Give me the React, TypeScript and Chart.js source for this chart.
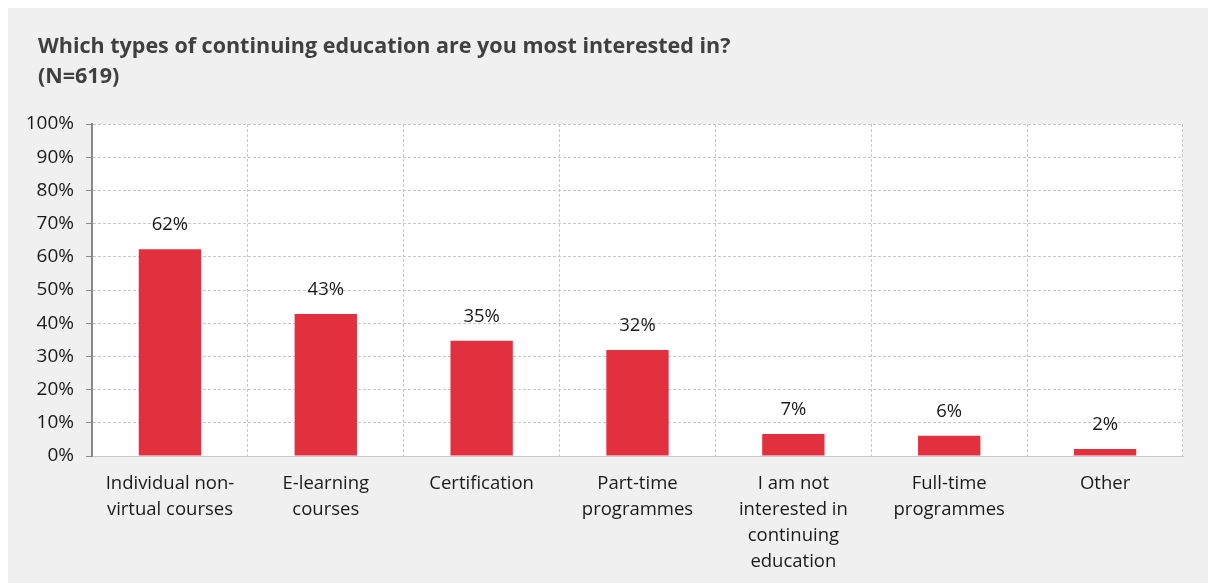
import React, { useEffect, useRef } from 'react';
import { Chart, registerables } from 'chart.js';

Chart.register(...registerables);

const titleLines = ['Which types of continuing education are you most interested in?', '(N=619)'];
const categories: string[][] = [
  ['Individual non-', 'virtual courses'],
  ['E-learning', 'courses'],
  ['Certification'],
  ['Part-time', 'programmes'],
  ['I am not', 'interested in', 'continuing', 'education'],
  ['Full-time', 'programmes'],
  ['Other'],
];
const values = [62.3, 42.8, 34.7, 31.9, 6.6, 6.1, 2.1];
const valueLabels = ['62%', '43%', '35%', '32%', '7%', '6%', '2%'];
const yTickValues = [0, 10, 20, 30, 40, 50, 60, 70, 80, 90, 100];

const FONT = '"Open Sans", sans-serif';

export default function App() {
  const ref = useRef<HTMLCanvasElement | null>(null);
  useEffect(() => {
    if (!ref.current) return;
    const bgPlugin = {
      id: 'bg',
      beforeDraw(chart: any) {
        const { ctx, chartArea } = chart;
        ctx.save();
        ctx.fillStyle = '#ffffff';
        ctx.fillRect(chartArea.left, chartArea.top, chartArea.right - chartArea.left, chartArea.bottom - chartArea.top);
        ctx.restore();
      },
    };
    const titlePlugin = {
      id: 'customTitle',
      afterDraw(chart: any) {
        const { ctx } = chart;
        ctx.save();
        ctx.fillStyle = '#404040';
        ctx.font = `bold 21.5px ${FONT}`;
        ctx.textBaseline = 'middle';
        ctx.textAlign = 'left';
        titleLines.forEach((l, i) => ctx.fillText(l, 30, 39 + i * 30));
        ctx.restore();
      },
    };
    const labelPlugin = {
      id: 'barLabels',
      afterDatasetsDraw(chart: any) {
        const { ctx } = chart;
        const meta = chart.getDatasetMeta(0);
        ctx.save();
        ctx.fillStyle = '#1a1a1a';
        ctx.font = `18.5px ${FONT}`;
        ctx.textAlign = 'center';
        ctx.textBaseline = 'middle';
        meta.data.forEach((bar: any, i: number) => {
          ctx.fillText(valueLabels[i], bar.x, bar.y - 24);
        });
        ctx.restore();
      },
    };
    const chart = new Chart(ref.current, {
      type: 'bar',
      data: {
        labels: categories,
        datasets: [
          {
            data: values,
            backgroundColor: '#e3303f',
            barPercentage: 0.4,
            categoryPercentage: 1,
          },
        ],
      },
      options: {
        animation: false,
        responsive: false,
        layout: { padding: { top: 116, right: 25, left: 0, bottom: 0 } },
        plugins: { legend: { display: false }, tooltip: { enabled: false }, title: { display: false } },
        scales: {
          x: {
            grid: { color: '#c8c8c8', drawTicks: false, offset: true } as any,
            border: { color: '#c8c8c8', dash: [3, 2] },
            ticks: { color: '#1a1a1a', font: { family: FONT, size: 18.5, lineHeight: 1.4 }, padding: 15, maxRotation: 0, autoSkip: false },
            afterFit(s: any) { s.height = 127; },
          },
          y: {
            min: 0,
            max: 100,
            afterBuildTicks(s: any) { s.ticks = yTickValues.map((v) => ({ value: v })); },
            grid: { color: '#c8c8c8', tickColor: '#888888', tickLength: 6, tickBorderDash: [] } as any,
            border: { color: '#888888', width: 2, dash: [3, 2] },
            ticks: { color: '#1a1a1a', font: { family: FONT, size: 19 }, padding: 12, callback: (v: any) => v + '%' },
            afterFit(s: any) { s.width = 84; },
          },
        },
      },
      plugins: [bgPlugin, titlePlugin, labelPlugin],
    });
    return () => chart.destroy();
  }, []);
  return (
    <div style={{ position: 'fixed', left: 8, top: 8, width: 1200, height: 575, background: '#f0f0f0' }}>
      <canvas ref={ref} width={1200} height={575} style={{ display: 'block' }} />
    </div>
  );
}
